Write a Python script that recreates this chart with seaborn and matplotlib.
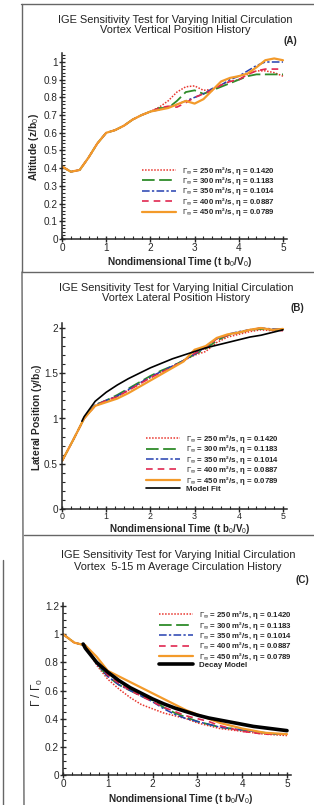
import numpy as np
import matplotlib
matplotlib.use("Agg")
from matplotlib import pyplot as plt
from matplotlib.lines import Line2D
from matplotlib.ticker import MultipleLocator, FormatStrFormatter
import seaborn as sns

# ---- data ----
series_labels = [r"$\Gamma_\infty$ = 250 m²/s, η = 0.1420",
                 r"$\Gamma_\infty$ = 300 m²/s, η = 0.1183",
                 r"$\Gamma_\infty$ = 350 m²/s, η = 0.1014",
                 r"$\Gamma_\infty$ = 400 m²/s, η = 0.0887",
                 r"$\Gamma_\infty$ = 450 m²/s, η = 0.0789"]

# (A) vertical position, t = 0..5 step 0.2
t_a = [0.0, 0.2, 0.4, 0.6, 0.8, 1.0, 1.2, 1.4, 1.6, 1.8, 2.0, 2.2, 2.4, 2.6, 2.8,
       3.0, 3.2, 3.4, 3.6, 3.8, 4.0, 4.2, 4.4, 4.6, 4.8, 5.0]
z_250 = [0.41, 0.38, 0.39, 0.46, 0.54, 0.60, 0.615, 0.64, 0.675, 0.70, 0.72, 0.745, 0.78, 0.83, 0.86,
         0.865, 0.84, 0.845, 0.87, 0.89, 0.90, 0.93, 0.95, 0.95, 0.94, 0.92]
z_300 = [0.41, 0.38, 0.39, 0.46, 0.54, 0.60, 0.615, 0.64, 0.675, 0.70, 0.72, 0.74, 0.74, 0.78, 0.83,
         0.84, 0.82, 0.84, 0.86, 0.88, 0.90, 0.92, 0.93, 0.93, 0.93, 0.93]
z_350 = [0.41, 0.38, 0.39, 0.46, 0.54, 0.60, 0.615, 0.64, 0.675, 0.70, 0.72, 0.73, 0.745, 0.76, 0.78,
         0.80, 0.82, 0.85, 0.87, 0.90, 0.92, 0.95, 0.98, 1.0, 1.0, 1.0]
z_400 = [0.41, 0.38, 0.39, 0.46, 0.54, 0.60, 0.615, 0.64, 0.675, 0.70, 0.72, 0.74, 0.75, 0.745, 0.77,
         0.80, 0.82, 0.84, 0.87, 0.89, 0.90, 0.93, 0.95, 0.96, 0.96, 0.96]
z_450 = [0.41, 0.38, 0.39, 0.46, 0.54, 0.60, 0.615, 0.64, 0.675, 0.70, 0.72, 0.73, 0.74, 0.76, 0.78,
         0.765, 0.79, 0.84, 0.89, 0.91, 0.92, 0.935, 0.97, 1.01, 1.02, 1.01]

# (B) lateral position, t = 0..5 step 0.25
t_b = [0.0, 0.25, 0.5, 0.75, 1.0, 1.25, 1.5, 1.75, 2.0, 2.25, 2.5, 2.75, 3.0, 3.25, 3.5,
       3.75, 4.0, 4.25, 4.5, 4.75, 5.0]
y_250 = [0.53, 0.76, 1.0, 1.14, 1.19, 1.24, 1.31, 1.38, 1.45, 1.51, 1.57, 1.64, 1.70, 1.74, 1.84,
         1.90, 1.93, 1.96, 1.98, 1.97, 1.98]
y_300 = [0.53, 0.76, 1.0, 1.15, 1.20, 1.26, 1.33, 1.40, 1.47, 1.53, 1.58, 1.64, 1.71, 1.77, 1.86,
         1.92, 1.95, 1.98, 1.99, 1.98, 1.98]
y_350 = [0.53, 0.76, 1.0, 1.15, 1.20, 1.25, 1.32, 1.39, 1.46, 1.52, 1.58, 1.64, 1.71, 1.79, 1.88,
         1.93, 1.96, 1.98, 2.0, 1.99, 1.99]
y_400 = [0.53, 0.76, 1.0, 1.14, 1.20, 1.24, 1.31, 1.38, 1.45, 1.51, 1.57, 1.64, 1.72, 1.78, 1.88,
         1.92, 1.95, 1.98, 2.0, 1.98, 1.97]
y_450 = [0.53, 0.76, 1.0, 1.14, 1.18, 1.22, 1.28, 1.35, 1.42, 1.49, 1.56, 1.63, 1.76, 1.80, 1.89,
         1.93, 1.95, 1.98, 2.0, 1.98, 1.99]
t_fit = [0.45, 0.5, 0.75, 1.0, 1.25, 1.5, 1.75, 2.0, 2.25, 2.5, 2.75, 3.0, 3.25, 3.5, 3.75,
         4.0, 4.25, 4.5, 4.75, 5.0]
y_fit = [0.97, 1.02, 1.19, 1.29, 1.37, 1.44, 1.50, 1.56, 1.61, 1.66, 1.70, 1.74, 1.78, 1.81, 1.84,
         1.87, 1.90, 1.92, 1.95, 1.98]

# (C) circulation, t = 0..5 step 0.25
g_250 = [1.0, 0.94, 0.92, 0.78, 0.68, 0.61, 0.55, 0.50, 0.47, 0.44, 0.42, 0.40, 0.37, 0.35, 0.33,
         0.32, 0.31, 0.30, 0.29, 0.285, 0.28]
g_300 = [1.0, 0.94, 0.92, 0.79, 0.70, 0.64, 0.60, 0.56, 0.53, 0.48, 0.44, 0.41, 0.38, 0.36, 0.34,
         0.33, 0.32, 0.31, 0.30, 0.29, 0.29]
g_350 = [1.0, 0.94, 0.92, 0.79, 0.70, 0.64, 0.60, 0.56, 0.52, 0.47, 0.43, 0.40, 0.38, 0.36, 0.34,
         0.33, 0.32, 0.31, 0.30, 0.29, 0.29]
g_400 = [1.0, 0.94, 0.92, 0.80, 0.71, 0.65, 0.60, 0.56, 0.52, 0.48, 0.45, 0.42, 0.40, 0.38, 0.35,
         0.33, 0.31, 0.30, 0.29, 0.29, 0.29]
g_450 = [1.0, 0.94, 0.92, 0.84, 0.74, 0.70, 0.66, 0.62, 0.58, 0.54, 0.50, 0.46, 0.43, 0.40, 0.37,
         0.35, 0.33, 0.315, 0.30, 0.295, 0.29]
t_decay = t_fit
g_decay = [0.93, 0.90, 0.80, 0.73, 0.67, 0.62, 0.58, 0.54, 0.505, 0.475, 0.45, 0.425, 0.405, 0.39, 0.375,
           0.36, 0.345, 0.335, 0.325, 0.315]

# ---- styles ----
colors = ["#e8342c", "#2e8b2a", "#2540b0", "#e02850", "#f39a2a"]
dashes = [(1, 1), (7, 2.5), (5, 1.5, 1.5, 1.5), (4, 3), ()]
widths = [1.1, 1.3, 1.1, 1.2, 1.6]

sns.set_style("ticks")
plt.rcParams['font.family'] = ['Liberation Sans', 'DejaVu Sans']
plt.rcParams['mathtext.fontset'] = 'custom'
plt.rcParams['mathtext.rm'] = 'Liberation Sans'
plt.rcParams['mathtext.it'] = 'Liberation Sans:italic'
plt.rcParams['mathtext.bf'] = 'Liberation Sans:bold'

W, H = 314, 805
fig = plt.figure(figsize=(W / 100, H / 100), dpi=100)
fig.patch.set_facecolor("white")


def fx(px):
    return px / W


def fy(py):
    return 1 - py / H


def make_axes(x0, x5, ybot, ytop_px, ytop_val, xmax, ymax):
    # x0/x5: pixel of t=0 and t=5; ybot: pixel of y=0, ytop_px: pixel of y=ytop_val
    xr = (x5 - x0) / 5 * xmax
    yr = (ybot - ytop_px) / ytop_val * ymax
    ax = fig.add_axes([fx(x0), fy(ybot), xr / W, yr / H])
    ax.set_xlim(0, xmax)
    ax.set_ylim(0, ymax)
    return ax


def style_axes(ax, ymajor, yminor, xlabsize=7.2):
    ax.xaxis.set_major_locator(MultipleLocator(1))
    ax.xaxis.set_minor_locator(MultipleLocator(0.2))
    ax.yaxis.set_major_locator(MultipleLocator(ymajor))
    ax.yaxis.set_minor_locator(MultipleLocator(yminor))
    ax.xaxis.set_major_formatter(FormatStrFormatter('%g'))
    ax.yaxis.set_major_formatter(FormatStrFormatter('%g'))
    ax.tick_params(which='major', direction='inout', length=5, width=1, labelsize=7.2, pad=0.5)
    ax.tick_params(axis='x', which='major', labelsize=xlabsize)
    ax.tick_params(which='minor', direction='in', length=2.5, width=0.8)
    for s in ['top', 'right']:
        ax.spines[s].set_visible(False)
    for s in ['left', 'bottom']:
        ax.spines[s].set_linewidth(1.1)
    ax.set_xlabel("")
    ax.set_ylabel("")
    ax.patch.set_alpha(0)


def draw_series(ax, t, ys):
    for y, c, d, w, lab in zip(ys, colors, dashes, widths, series_labels):
        sns.lineplot(x=t, y=y, ax=ax, color=c, lw=w, label=lab)
        if d:
            ax.lines[-1].set_dashes(d)


def add_legend(ax, x, y):
    leg = ax.legend(loc='upper left', bbox_to_anchor=(x, y), frameon=False,
                    handlelength=4.3, handletextpad=0.8, labelspacing=-0.2, borderpad=0,
                    borderaxespad=0, prop={'weight': 'bold', 'size': 5.7})
    return leg


def titles(lines, cx, y1, y2, tag, tx, ty):
    fig.text(fx(cx), fy(y1), lines[0], ha='center', va='center', fontsize=7.9, color='#222')
    fig.text(fx(cx), fy(y2), lines[1], ha='center', va='center', fontsize=7.9, color='#222')
    fig.text(fx(tx), fy(ty), tag, ha='center', va='center', fontsize=7, weight='bold')


xlab = r"Nondimensional Time (t b$_0$/V$_0$)"

# ---- panel A ----
axA = make_axes(62, 283, 239, 62, 1.0, 5.1, 1.05)
draw_series(axA, t_a, [z_250, z_300, z_350, z_400, z_450])
style_axes(axA, 0.1, 0.02)
add_legend(axA, 0.353, 0.40)
titles(["IGE Sensitivity Test for Varying Initial Circulation",
        "Vortex Vertical Position History"], 175, 20, 30, "(A)", 290, 41)
fig.text(fx(180), fy(262), xlab, ha='center', va='center', fontsize=7.2, weight='bold')
fig.text(fx(34), fy(147), r"Altitude (z/b$_0$)", ha='center', va='center', rotation=90,
         fontsize=7.4, weight='bold')

# ---- panel B ----
axB = make_axes(62, 283, 509, 328, 2.0, 5.1, 2.05)
draw_series(axB, t_b, [y_250, y_300, y_350, y_400, y_450])
sns.lineplot(x=t_fit, y=y_fit, ax=axB, color='black', lw=1.2, label='Model Fit')
style_axes(axB, 0.5, 0.1, xlabsize=6.4)
axB.tick_params(axis='x', which='major', pad=0)
add_legend(axB, 0.371, 0.41)
titles(["IGE Sensitivity Test for Varying Initial Circulation",
        "Vortex Lateral Position History"], 176, 288, 298, "(B)", 297, 308)
fig.text(fx(180), fy(529), xlab, ha='center', va='center', fontsize=7.0, weight='bold')
fig.text(fx(37), fy(417), r"Lateral Position (y/b$_0$)", ha='center', va='center', rotation=90,
         fontsize=7.4, weight='bold')

# ---- panel C ----
axC = make_axes(63, 287, 775, 606, 1.2, 5.1, 1.22)
draw_series(axC, t_b, [g_250, g_300, g_350, g_400, g_450])
sns.lineplot(x=t_decay, y=g_decay, ax=axC, color='black', lw=2.6, label='Decay Model')
style_axes(axC, 0.2, 0.05)
add_legend(axC, 0.42, 0.965)
titles(["IGE Sensitivity Test for Varying Initial Circulation",
        "Vortex  5-15 m Average Circulation History"], 178, 555, 567, "(C)", 302, 580)
fig.text(fx(181), fy(799), xlab, ha='center', va='center', fontsize=7.2, weight='bold')
fig.text(fx(37), fy(692), r"$\Gamma$ / $\Gamma_0$", ha='center', va='center', rotation=90,
         fontsize=8.5)

# ---- page frame ----
for seg in [([fx(21), 1], [fy(4), fy(4)]),
            ([fx(22), fx(22)], [fy(4), fy(272)]),
            ([fx(22), fx(24)], [fy(272), fy(805)]),
            ([fx(22), 1], [fy(272), fy(272)]),
            ([fx(24), 1], [fy(535), fy(535)]),
            ([fx(3), fx(3)], [fy(560), fy(805)])]:
    fig.add_artist(Line2D(seg[0], seg[1], color='#666666', lw=1.0))

fig.savefig("out.png", dpi=100)
